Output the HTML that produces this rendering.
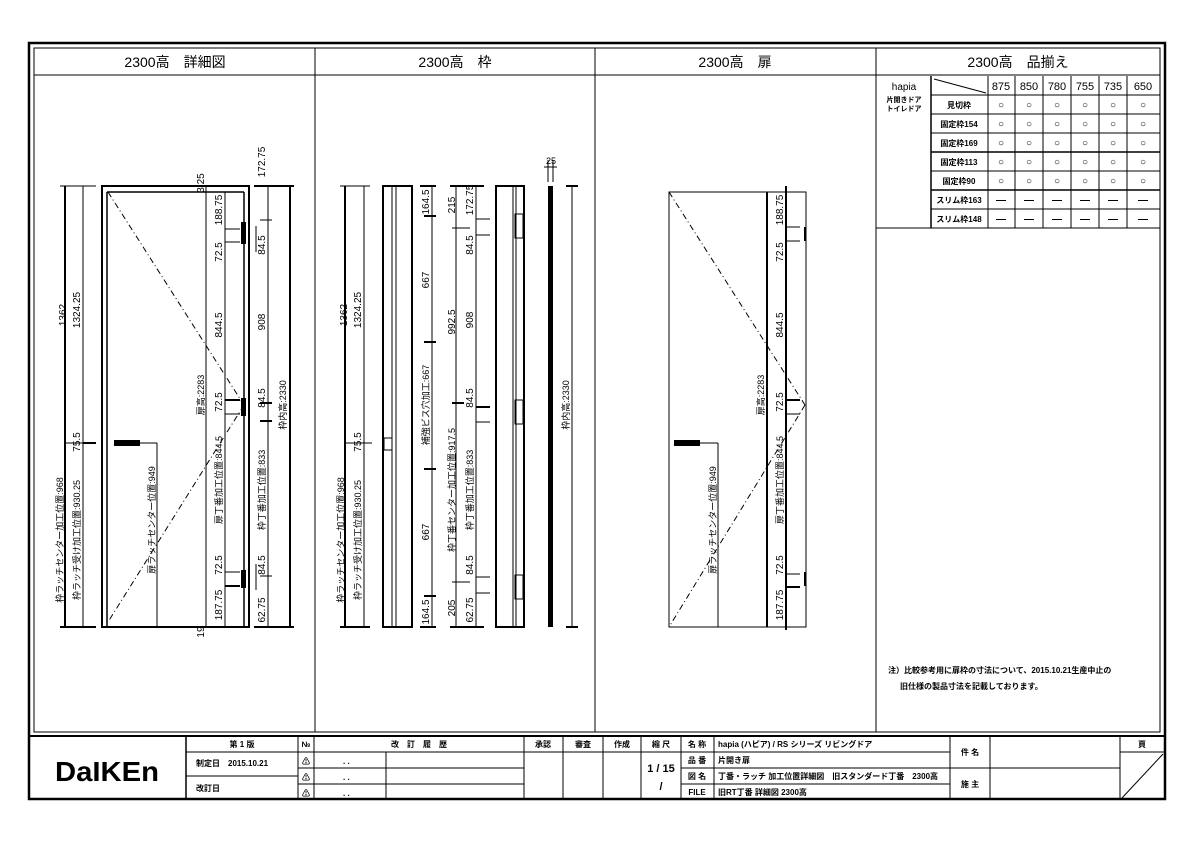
<!DOCTYPE html>
<html><head><meta charset="utf-8"><style>
html,body{margin:0;padding:0;background:#fff;}
svg{display:block;}
text{font-family:"Liberation Sans","Noto Sans CJK JP",sans-serif;fill:#000;}
.v{font-size:10px;text-anchor:middle;}
.b{font-weight:bold;}
</style></head><body>
<svg width="1191" height="842" viewBox="0 0 1191 842" xmlns="http://www.w3.org/2000/svg">
<g fill="none" stroke="#000">
<rect x="29" y="43" width="1136" height="756" stroke-width="2.5"/>
<rect x="34" y="48" width="1126" height="684" stroke-width="1"/>
<line x1="34" y1="75" x2="1160" y2="75"/>
<line x1="315" y1="48" x2="315" y2="732"/>
<line x1="595" y1="48" x2="595" y2="732"/>
<line x1="876" y1="48" x2="876" y2="732"/>
<line x1="29" y1="736" x2="1165" y2="736" stroke-width="2"/>
</g>
<g font-size="14" text-anchor="middle">
<text x="175" y="67">2300高　詳細図</text>
<text x="455" y="67">2300高　枠</text>
<text x="735" y="67">2300高　扉</text>
<text x="1018" y="67">2300高　品揃え</text>
</g>

<!-- Panel 1 -->
<g stroke="#000" fill="none">
<line x1="65" y1="186" x2="65" y2="627" stroke-width="2"/>
<line x1="60" y1="186" x2="96" y2="186" stroke-width="1"/>
<line x1="60" y1="627" x2="96" y2="627" stroke-width="2"/>
<line x1="83" y1="186" x2="83" y2="627"/>
<line x1="83" y1="443" x2="96" y2="443" stroke-width="2"/>
<line x1="65" y1="443" x2="83" y2="443"/>
<rect x="102" y="186" width="147" height="441" stroke-width="2"/>
<line x1="107" y1="192" x2="107" y2="627" stroke-width="1.5"/>
<line x1="107" y1="192" x2="244" y2="192" stroke-width="1.5"/>
<line x1="244" y1="192" x2="244" y2="627" stroke-width="1.5"/>
<line x1="206" y1="186" x2="206" y2="627"/>
<line x1="225" y1="192" x2="225" y2="627"/>
<line x1="108" y1="192" x2="244" y2="405" stroke-dasharray="6,3,1,3"/>
<line x1="244" y1="405" x2="108" y2="622" stroke-dasharray="6,3,1,3"/>
<line x1="157" y1="443" x2="157" y2="627"/>
<line x1="140" y1="443" x2="157" y2="443"/>
<line x1="225" y1="229" x2="240" y2="229"/><line x1="225" y1="242" x2="240" y2="242"/>
<line x1="225" y1="400" x2="240" y2="400" stroke-width="2"/><line x1="225" y1="414" x2="240" y2="414"/>
<line x1="225" y1="572" x2="240" y2="572"/><line x1="225" y1="586" x2="240" y2="586" stroke-width="2"/>
<line x1="268" y1="186" x2="268" y2="627"/>
<line x1="290" y1="186" x2="290" y2="627" stroke-width="2"/>
<line x1="254" y1="186" x2="294" y2="186" stroke-width="2"/>
<line x1="254" y1="627" x2="294" y2="627" stroke-width="2"/>
<line x1="260" y1="220" x2="272" y2="220"/><line x1="260" y1="403" x2="272" y2="403" stroke-width="2"/>
<line x1="260" y1="421" x2="272" y2="421" stroke-width="2"/><line x1="260" y1="576" x2="272" y2="576"/>
<line x1="256" y1="226" x2="256" y2="252"/><line x1="256" y1="564" x2="256" y2="590"/>
</g>
<g fill="#000">
<rect x="241" y="222" width="5" height="22"/><rect x="241" y="398" width="5" height="18"/><rect x="241" y="570" width="5" height="18"/>
<rect x="114" y="440" width="26" height="6"/>
</g>
<g class="v">
<text transform="translate(66,315) rotate(-90)">1362</text>
<text transform="translate(80,310) rotate(-90)">1324.25</text>
<text transform="translate(80,442) rotate(-90)">75.5</text>
<text transform="translate(63,540) rotate(-90)" font-size="9">枠ラッチセンター加工位置:968</text>
<text transform="translate(80,540) rotate(-90)" font-size="9">枠ラッチ受け加工位置:930.25</text>
<text transform="translate(155,520) rotate(-90)" font-size="9">扉ラッチセンター位置:949</text>
<text transform="translate(204,395) rotate(-90)" font-size="9">扉高:2283</text>
<text transform="translate(222,480) rotate(-90)" font-size="9">扉丁番加工位置:844.5</text>
<text transform="translate(204,183) rotate(-90)">3.25</text>
<text transform="translate(204,632) rotate(-90)">19</text>
<text transform="translate(222,210) rotate(-90)">188.75</text>
<text transform="translate(222,252) rotate(-90)">72.5</text>
<text transform="translate(222,325) rotate(-90)">844.5</text>
<text transform="translate(222,402) rotate(-90)">72.5</text>
<text transform="translate(222,565) rotate(-90)">72.5</text>
<text transform="translate(222,605) rotate(-90)">187.75</text>
<text transform="translate(265,162) rotate(-90)">172.75</text>
<text transform="translate(265,245) rotate(-90)">84.5</text>
<text transform="translate(265,322) rotate(-90)">908</text>
<text transform="translate(265,398) rotate(-90)">84.5</text>
<text transform="translate(265,490) rotate(-90)" font-size="9">枠丁番加工位置:833</text>
<text transform="translate(265,565) rotate(-90)">84.5</text>
<text transform="translate(265,610) rotate(-90)">62.75</text>
<text transform="translate(286,405) rotate(-90)" font-size="9">枠内高:2330</text>
</g>

<!-- Panel 2 -->
<g stroke="#000" fill="none">
<line x1="345" y1="186" x2="345" y2="627" stroke-width="2"/>
<line x1="340" y1="186" x2="370" y2="186"/><line x1="340" y1="627" x2="370" y2="627" stroke-width="2"/>
<line x1="364" y1="186" x2="364" y2="627"/>
<line x1="345" y1="443" x2="372" y2="443"/>
<rect x="383" y="186" width="29" height="441" stroke-width="2"/>
<line x1="392" y1="186" x2="392" y2="627"/><line x1="396" y1="186" x2="396" y2="627"/>
<rect x="384" y="438" width="8" height="12"/>
<line x1="432" y1="186" x2="432" y2="627"/>
<line x1="420" y1="186" x2="436" y2="186" stroke-width="2"/><line x1="420" y1="627" x2="436" y2="627" stroke-width="2"/>
<line x1="424" y1="216" x2="436" y2="216" stroke-width="2"/><line x1="424" y1="342" x2="436" y2="342" stroke-width="2"/>
<line x1="424" y1="469" x2="436" y2="469" stroke-width="2"/><line x1="424" y1="596" x2="436" y2="596" stroke-width="2"/>
<line x1="456" y1="186" x2="456" y2="627"/>
<line x1="476" y1="186" x2="476" y2="627"/>
<line x1="450" y1="186" x2="484" y2="186" stroke-width="2"/><line x1="450" y1="627" x2="484" y2="627" stroke-width="2"/>
<line x1="452" y1="228" x2="470" y2="228"/><line x1="476" y1="219" x2="490" y2="219"/><line x1="476" y1="235" x2="490" y2="235"/>
<line x1="452" y1="403" x2="464" y2="403" stroke-width="2"/><line x1="476" y1="407" x2="490" y2="407" stroke-width="2"/><line x1="476" y1="422" x2="490" y2="422"/>
<line x1="452" y1="582" x2="470" y2="582"/><line x1="476" y1="577" x2="490" y2="577"/><line x1="476" y1="593" x2="490" y2="593"/>
<rect x="496" y="186" width="28" height="441" stroke-width="2"/>
<line x1="513" y1="186" x2="513" y2="627"/><line x1="516" y1="186" x2="516" y2="627"/>
<rect x="515" y="214" width="8" height="24"/><rect x="515" y="400" width="8" height="24"/><rect x="515" y="575" width="8" height="24"/>
<line x1="572" y1="186" x2="572" y2="627"/>
<line x1="566" y1="186" x2="578" y2="186" stroke-width="2"/><line x1="566" y1="627" x2="578" y2="627" stroke-width="2"/>
<line x1="548" y1="160" x2="548" y2="182"/><line x1="553" y1="160" x2="553" y2="182"/><line x1="544" y1="167" x2="557" y2="167"/>
</g>
<rect x="548" y="186" width="5" height="441" fill="#000"/>
<g class="v">
<text transform="translate(347,315) rotate(-90)">1362</text>
<text transform="translate(361,310) rotate(-90)">1324.25</text>
<text transform="translate(361,442) rotate(-90)">75.5</text>
<text transform="translate(344,540) rotate(-90)" font-size="9">枠ラッチセンター加工位置:968</text>
<text transform="translate(361,540) rotate(-90)" font-size="9">枠ラッチ受け加工位置:930.25</text>
<text transform="translate(429,202) rotate(-90)">164.5</text>
<text transform="translate(429,280) rotate(-90)">667</text>
<text transform="translate(429,405) rotate(-90)" font-size="9">補強ビス穴加工:667</text>
<text transform="translate(429,532) rotate(-90)">667</text>
<text transform="translate(429,612) rotate(-90)">164.5</text>
<text transform="translate(455,205) rotate(-90)">215</text>
<text transform="translate(455,322) rotate(-90)">992.5</text>
<text transform="translate(455,490) rotate(-90)" font-size="9">枠丁番センター加工位置:917.5</text>
<text transform="translate(455,608) rotate(-90)">205</text>
<text transform="translate(473,200) rotate(-90)">172.75</text>
<text transform="translate(473,245) rotate(-90)">84.5</text>
<text transform="translate(473,320) rotate(-90)">908</text>
<text transform="translate(473,398) rotate(-90)">84.5</text>
<text transform="translate(473,490) rotate(-90)" font-size="9">枠丁番加工位置:833</text>
<text transform="translate(473,565) rotate(-90)">84.5</text>
<text transform="translate(473,610) rotate(-90)">62.75</text>
<text x="551" y="164" font-size="9">25</text>
<text transform="translate(569,405) rotate(-90)" font-size="9">枠内高:2330</text>
</g>

<!-- Panel 3 -->
<g stroke="#000" fill="none">
<rect x="669" y="192" width="137" height="435"/>
<line x1="767" y1="192" x2="767" y2="627" stroke-width="2"/>
<line x1="786" y1="186" x2="786" y2="630" stroke-width="2"/>
<line x1="669" y1="192" x2="805" y2="405" stroke-dasharray="6,3,1,3"/>
<line x1="805" y1="405" x2="669" y2="627" stroke-dasharray="6,3,1,3"/>
<line x1="718" y1="443" x2="718" y2="627"/>
<line x1="700" y1="443" x2="718" y2="443"/>
<line x1="786" y1="227" x2="800" y2="227"/><line x1="786" y1="241" x2="800" y2="241"/>
<line x1="786" y1="400" x2="800" y2="400" stroke-width="2"/><line x1="786" y1="414" x2="800" y2="414"/>
<line x1="786" y1="574" x2="800" y2="574"/><line x1="786" y1="587" x2="800" y2="587" stroke-width="2"/>
</g>
<g fill="#000">
<rect x="804" y="227" width="2" height="14"/><rect x="804" y="572" width="2" height="14"/>
<rect x="674" y="440" width="26" height="6"/>
</g>
<g class="v">
<text transform="translate(764,395) rotate(-90)" font-size="9">扉高:2283</text>
<text transform="translate(783,480) rotate(-90)" font-size="9">扉丁番加工位置:844.5</text>
<text transform="translate(716,520) rotate(-90)" font-size="9">扉ラッチセンター位置:949</text>
<text transform="translate(783,210) rotate(-90)">188.75</text>
<text transform="translate(783,252) rotate(-90)">72.5</text>
<text transform="translate(783,325) rotate(-90)">844.5</text>
<text transform="translate(783,402) rotate(-90)">72.5</text>
<text transform="translate(783,565) rotate(-90)">72.5</text>
<text transform="translate(783,605) rotate(-90)">187.75</text>
</g>

<!-- Panel 4 table -->
<g stroke="#000" fill="none">
<line x1="876" y1="228" x2="1160" y2="228"/>
<line x1="931" y1="76" x2="931" y2="228" stroke-width="1.5"/>
<line x1="988" y1="76" x2="988" y2="228"/>
<line x1="1015" y1="76" x2="1015" y2="228"/>
<line x1="1043" y1="76" x2="1043" y2="228"/>
<line x1="1071" y1="76" x2="1071" y2="228"/>
<line x1="1099" y1="76" x2="1099" y2="228"/>
<line x1="1127" y1="76" x2="1127" y2="228"/>
<line x1="931" y1="95" x2="1160" y2="95"/>
<line x1="931" y1="114" x2="1160" y2="114"/>
<line x1="931" y1="133" x2="1160" y2="133"/>
<line x1="931" y1="152" x2="1160" y2="152" stroke-width="1.5"/>
<line x1="931" y1="171" x2="1160" y2="171"/>
<line x1="931" y1="190" x2="1160" y2="190" stroke-width="1.5"/>
<line x1="931" y1="209" x2="1160" y2="209"/>
<line x1="934" y1="79" x2="986" y2="93"/>
</g>
<g font-size="10" text-anchor="middle">
<text x="904" y="90">hapia</text>
<text x="904" y="102" font-size="7" class="b">片開きドア</text>
<text x="904" y="111" font-size="7" class="b">トイレドア</text>
<g font-size="11"><text x="1001" y="90">875</text><text x="1029" y="90">850</text><text x="1057" y="90">780</text><text x="1085" y="90">755</text><text x="1113" y="90">735</text><text x="1143" y="90">650</text></g>
<g font-size="8" class="b"><text x="959" y="108">見切枠</text><text x="959" y="127">固定枠154</text><text x="959" y="146">固定枠169</text><text x="959" y="165">固定枠113</text><text x="959" y="184">固定枠90</text><text x="959" y="203">スリム枠163</text><text x="959" y="222">スリム枠148</text></g>
<g font-size="10" class="b">
<text x="1001" y="108">○</text><text x="1029" y="108">○</text><text x="1057" y="108">○</text><text x="1085" y="108">○</text><text x="1113" y="108">○</text><text x="1143" y="108">○</text>
<text x="1001" y="127">○</text><text x="1029" y="127">○</text><text x="1057" y="127">○</text><text x="1085" y="127">○</text><text x="1113" y="127">○</text><text x="1143" y="127">○</text>
<text x="1001" y="146">○</text><text x="1029" y="146">○</text><text x="1057" y="146">○</text><text x="1085" y="146">○</text><text x="1113" y="146">○</text><text x="1143" y="146">○</text>
<text x="1001" y="165">○</text><text x="1029" y="165">○</text><text x="1057" y="165">○</text><text x="1085" y="165">○</text><text x="1113" y="165">○</text><text x="1143" y="165">○</text>
<text x="1001" y="184">○</text><text x="1029" y="184">○</text><text x="1057" y="184">○</text><text x="1085" y="184">○</text><text x="1113" y="184">○</text><text x="1143" y="184">○</text>
<text x="1001" y="203">—</text><text x="1029" y="203">—</text><text x="1057" y="203">—</text><text x="1085" y="203">—</text><text x="1113" y="203">—</text><text x="1143" y="203">—</text>
<text x="1001" y="222">—</text><text x="1029" y="222">—</text><text x="1057" y="222">—</text><text x="1085" y="222">—</text><text x="1113" y="222">—</text><text x="1143" y="222">—</text>
</g>
</g>
<g font-size="8" class="b">
<text x="888" y="673">注）比較参考用に扉枠の寸法について、2015.10.21生産中止の</text>
<text x="900" y="689">旧仕様の製品寸法を記載しております。</text>
</g>

<!-- Title block -->
<g stroke="#000" fill="none">
<line x1="186" y1="736" x2="186" y2="800" stroke-width="1.5"/>
<line x1="298" y1="736" x2="298" y2="800"/>
<line x1="314" y1="736" x2="314" y2="800"/>
<line x1="386" y1="752" x2="386" y2="800"/>
<line x1="524" y1="736" x2="524" y2="800"/>
<line x1="563" y1="736" x2="563" y2="800"/>
<line x1="603" y1="736" x2="603" y2="800"/>
<line x1="641" y1="736" x2="641" y2="800"/>
<line x1="681" y1="736" x2="681" y2="800"/>
<line x1="714" y1="736" x2="714" y2="800"/>
<line x1="950" y1="736" x2="950" y2="800"/>
<line x1="990" y1="736" x2="990" y2="800"/>
<line x1="1120" y1="736" x2="1120" y2="800"/>
<line x1="186" y1="752" x2="950" y2="752"/>
<line x1="1120" y1="752" x2="1165" y2="752"/>
<line x1="186" y1="776" x2="298" y2="776"/>
<line x1="298" y1="768" x2="524" y2="768"/>
<line x1="298" y1="784" x2="524" y2="784"/>
<line x1="681" y1="768" x2="950" y2="768"/>
<line x1="681" y1="784" x2="950" y2="784"/>
<line x1="950" y1="768" x2="1120" y2="768"/>
<line x1="1122" y1="798" x2="1163" y2="754"/>
</g>
<text x="107" y="781" font-size="28" font-weight="bold" text-anchor="middle" textLength="104" lengthAdjust="spacingAndGlyphs">DaIKEn</text>
<g font-size="8" class="b">
<text x="242" y="747" text-anchor="middle">第 1 版</text>
<text x="306" y="747" text-anchor="middle">№</text>
<text x="419" y="747" text-anchor="middle">改　訂　履　歴</text>
<text x="543" y="747" text-anchor="middle">承認</text>
<text x="583" y="747" text-anchor="middle">審査</text>
<text x="622" y="747" text-anchor="middle">作成</text>
<text x="661" y="747" text-anchor="middle">縮 尺</text>
<text x="697" y="747" text-anchor="middle">名 称</text>
<text x="718" y="747">hapia (ハピア) / RS シリーズ リビングドア</text>
<text x="697" y="763" text-anchor="middle">品 番</text>
<text x="718" y="763">片開き扉</text>
<text x="697" y="779" text-anchor="middle">図 名</text>
<text x="718" y="779">丁番・ラッチ 加工位置詳細図　旧スタンダード丁番　2300高</text>
<text x="697" y="795" text-anchor="middle">FILE</text>
<text x="718" y="795">旧RT丁番 詳細図 2300高</text>
<text x="970" y="755" text-anchor="middle">件 名</text>
<text x="970" y="787" text-anchor="middle">施 主</text>
<text x="1142" y="747" text-anchor="middle">頁</text>
<text x="196" y="766">制定日　2015.10.21</text>
<text x="196" y="791">改訂日</text>
<text x="306" y="764" text-anchor="middle">⚠</text>
<text x="306" y="780" text-anchor="middle">⚠</text>
<text x="306" y="796" text-anchor="middle">⚠</text>
<text x="343" y="764">. .</text>
<text x="343" y="780">. .</text>
<text x="343" y="796">. .</text>
</g>
<text x="661" y="772" font-size="11" text-anchor="middle" font-weight="bold">1 / 15</text>
<text x="661" y="790" font-size="11" text-anchor="middle" font-weight="bold">/</text>
</svg>
</body></html>
